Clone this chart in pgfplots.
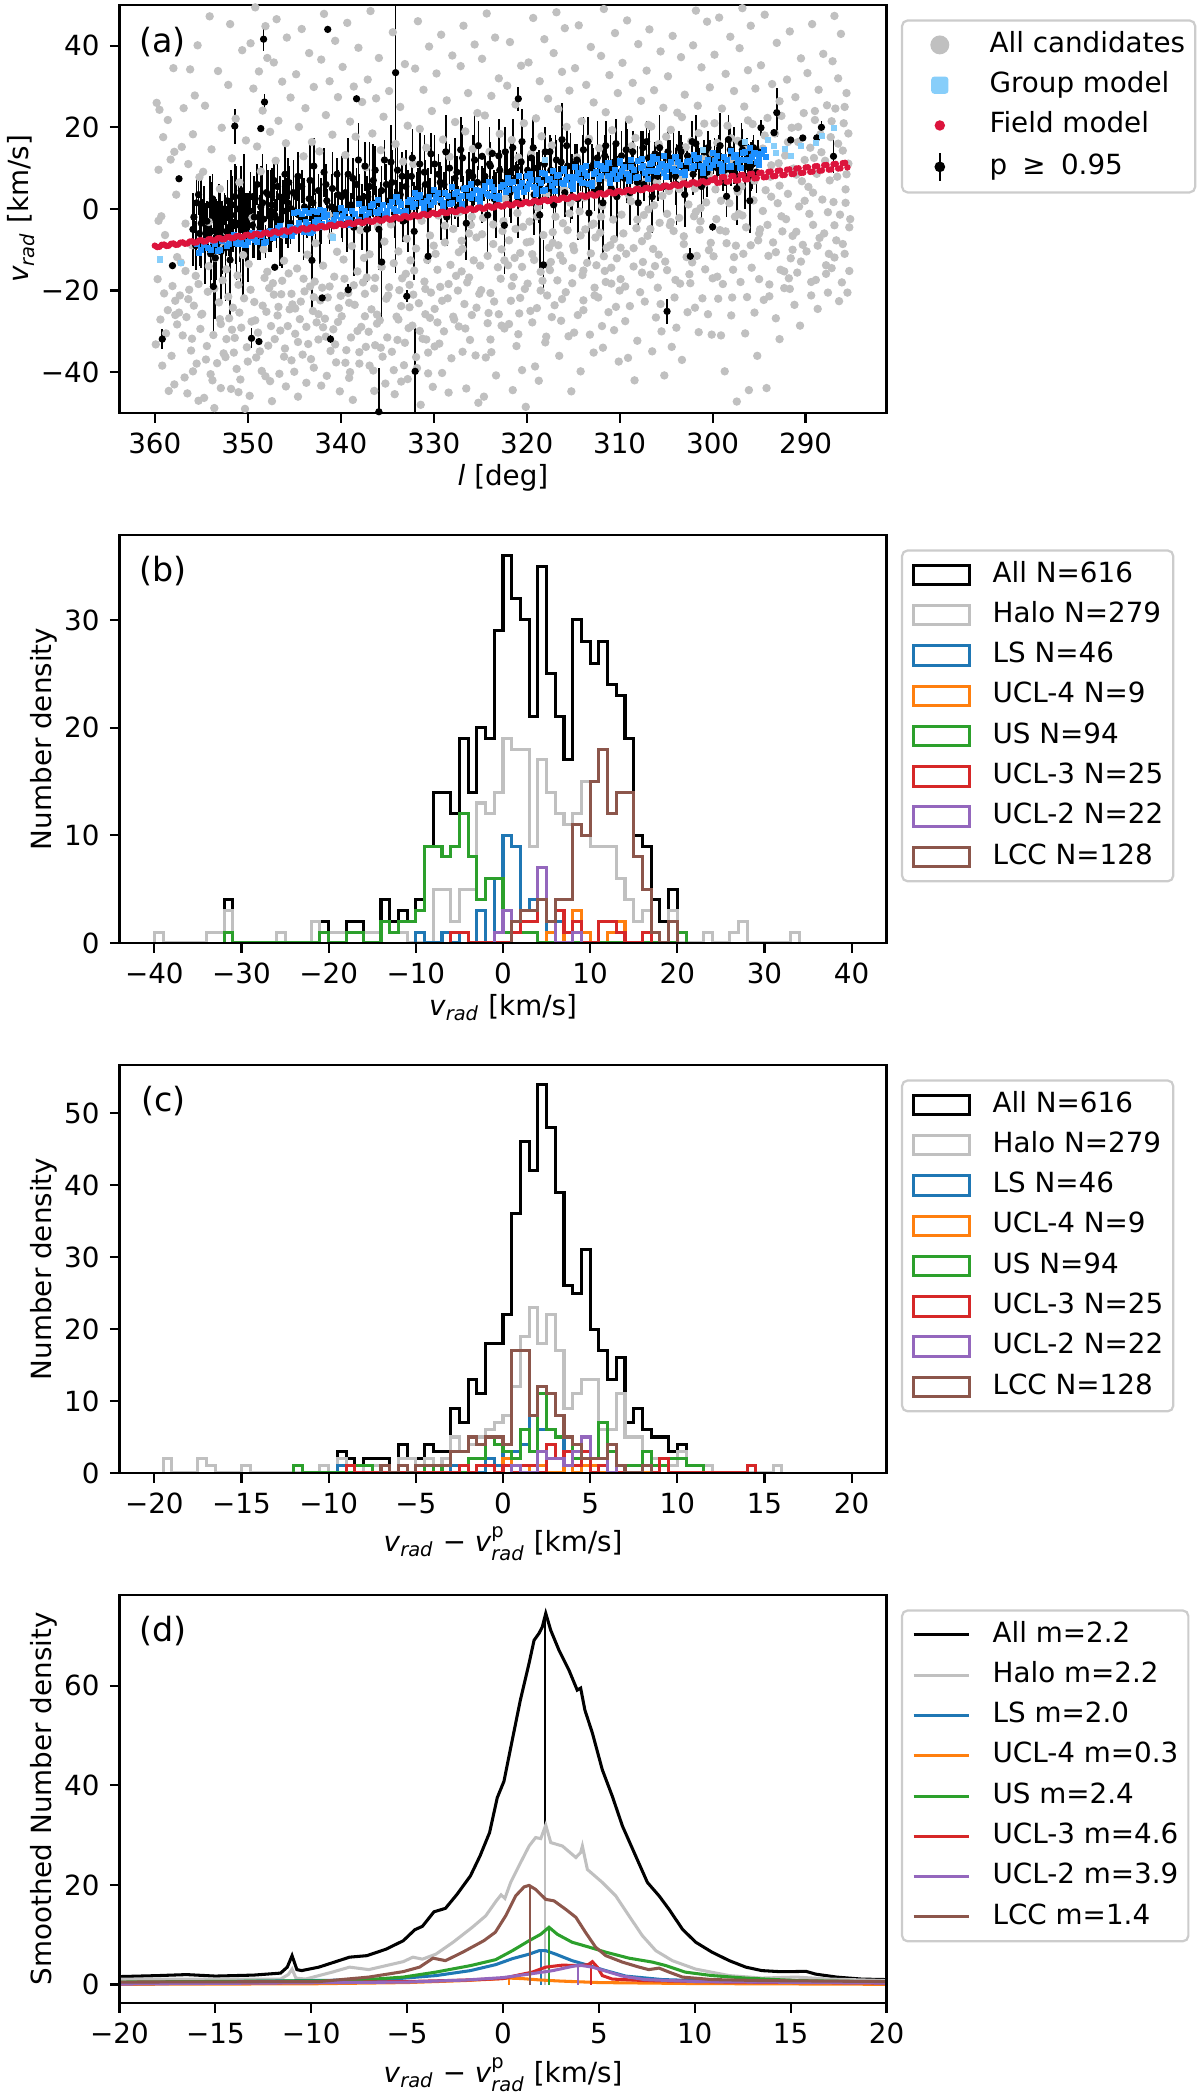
\documentclass[border=0pt]{standalone}
\usepackage{amsmath}
\usepackage{fontspec}
\setmainfont{DejaVu Sans}
\usepackage{pgfplots}
\pgfplotsset{compat=1.18}
\usepackage{pgfplotstable}
\definecolor{grayc}{RGB}{192,192,192}
\definecolor{lsb}{RGB}{135,206,250}
\definecolor{dodger}{RGB}{30,144,255}
\definecolor{crim}{RGB}{220,20,60}
\definecolor{tblue}{HTML}{1F77B4}
\definecolor{torange}{HTML}{FF7F0E}
\definecolor{tgreen}{HTML}{2CA02C}
\definecolor{tred}{HTML}{D62728}
\definecolor{tpurple}{HTML}{9467BD}
\definecolor{tbrown}{HTML}{8C564B}
\pgfplotsset{panel/.style={
  scale only axis, width=276.12pt, height=146.9pt,
  at={(43.02pt,#1)}, anchor=south west,
  axis line style={line width=0.8pt},
  tick align=outside, xtick pos=left, ytick pos=left,
  major tick length=3.5pt,
  tick style={black, line width=0.8pt},
  tick label style={font=\fontsize{10}{12}\selectfont, inner sep=0pt},
  xticklabel style={yshift=-3.5pt}, yticklabel style={xshift=-3.5pt},
  label style={font=\fontsize{10}{12}\selectfont},
  legend style={at={(1,1)}, anchor=north west, xshift=5.2pt, yshift=-5.2pt,
    draw=black!20, line width=0.8pt, rounded corners=2pt, fill=white,
    font=\fontsize{10}{12}\selectfont, inner xsep=3.6pt, inner ysep=3.8pt,
    row sep=4.5pt, cells={anchor=west},
    nodes={inner sep=0pt, text height=7.6pt, text depth=2.4pt},
    /tikz/every odd column/.append style={column sep=7.9pt}},
  axis on top}}
\pgfplotstableread{
l v e
355.8 -2.0 4
355.5 1.5 6
355.2 -6.0 8
354.9 -0.5 3
354.6 -8.5 10
354.4 -3.0 5
354.1 1.0 7
353.9 -5.5 12
353.7 -1.0 4
353.5 -12.0 15
353.3 -4.0 6
353.0 0.5 5
352.8 -7.0 9
352.6 -2.5 3
352.4 -9.5 13
352.2 2.0 5
352.0 -4.5 7
351.8 -1.5 11
351.6 -6.5 4
351.4 3.0 8
351.2 -3.5 14
351.0 0.0 6
350.8 -8.0 10
350.6 -2.0 4
350.4 1.5 12
350.2 -5.0 9
351.4 20.3 4.3
353.7 -19.0 12.5
350.5 -8.5 12.5
349.8 -0.5 5
349.5 -4.0 8
349.2 2.5 4
348.9 -6.5 6
348.6 0.5 10
348.3 -2.5 3
348.0 4.0 7
347.7 -5.5 5
347.4 1.0 9
347.1 -1.5 4
346.8 5.5 6
346.5 -3.0 11
346.2 2.0 5
345.9 -0.5 8
345.6 6.5 4
345.3 0.0 7
348.3 41.6 3
348.2 26.2 2
348.6 19.7 0.3
341.4 44.0 0.3
338.3 27.0 0.3
357.4 7.4 0.3
358.1 -13.9 0.3
359.2 -31.9 2.5
349.6 -31.7 2.5
348.8 -32.5 0.3
341.1 -31.9 1
342.0 -21.8 0.3
339.2 -19.8 1.5
332.9 -21.4 1.5
347.1 -14.3 0.3
343.1 -12.6 13
334.1 33.4 49
332.0 -39.8 10.6
335.9 -49.7 10.7
323.7 13.6 0.3
324.8 12.9 0.3
330.6 -11.6 2
335.6 -13.0 15
337.2 -5.0 13
344.8 3.0 5
344.5 -1.5 9
344.2 5.5 4
343.9 0.5 7
343.6 -4.0 3
343.3 7.0 10
343.0 1.5 5
342.7 -2.0 6
342.4 4.5 4
342.1 -0.5 8
341.8 9.0 6
341.5 2.0 3
341.2 -3.5 5
340.9 5.0 9
340.6 0.0 4
340.3 3.5 6
339.8 -1.0 7
339.5 4.0 5
339.2 8.5 9
338.9 1.0 3
338.6 -4.5 12
338.3 6.0 4
338.0 2.5 6
337.7 -2.0 8
337.4 10.5 6
337.1 3.0 3
336.8 -0.5 5
336.5 7.0 9
336.2 1.5 4
335.9 -5.0 10
335.6 4.5 6
335.3 12.0 5
334.8 2.0 4
334.5 6.5 8
334.2 -1.0 6
333.9 9.5 7
333.6 3.5 3
333.3 -3.0 5
333.0 5.5 9
332.7 1.0 4
332.4 8.0 6
332.1 -5.5 12
331.8 4.0 5
331.5 11.0 8
331.2 2.5 3
330.9 6.0 6
330.6 0.0 10
330.3 13.5 5
329.8 4.0 6
329.5 8.5 5
329.2 1.5 9
328.9 6.0 3
328.6 -2.0 7
328.3 10.0 6
328.0 3.5 4
327.7 7.5 10
327.4 0.5 5
327.1 14.5 8
326.8 5.0 3
326.5 -3.5 9
326.2 9.0 5
325.9 2.5 6
325.6 12.0 11
325.3 6.5 4
324.8 3.5 7
324.5 8.0 5
324.2 -1.5 10
323.9 10.5 6
323.6 5.0 3
323.3 1.0 8
323.0 13.0 9
322.7 6.5 4
322.4 -4.0 12
322.1 9.0 5
321.8 4.0 6
321.5 15.0 7
321.2 7.5 4
320.9 2.0 9
320.6 11.5 5
320.3 5.5 3
320.9 27.0 3
319.8 8.0 6
319.5 12.5 5
319.2 3.5 10
318.9 10.0 4
318.6 -1.5 13
318.3 7.0 7
318.2 -13.7 6
318.0 14.0 6
317.7 5.0 3
317.4 9.5 8
317.1 1.0 9
316.8 12.0 5
316.5 6.5 4
316.2 17.0 9
315.9 4.0 6
315.6 10.5 3
315.3 7.5 11
314.8 11.0 5
314.5 2.5 10
314.2 8.5 4
313.9 14.5 8
313.6 6.0 3
313.3 -1.0 12
313.0 10.0 6
312.7 4.5 5
312.4 12.5 9
312.1 7.0 3
311.8 1.5 14
311.5 15.5 6
311.2 9.0 4
310.9 5.0 7
310.6 11.5 5
310.3 3.0 10
309.8 13.0 6
309.5 7.5 4
309.2 10.5 9
308.9 4.0 8
308.6 14.0 5
308.3 9.0 3
308.0 1.5 6
307.7 12.0 7
307.4 6.0 4
307.1 16.5 5
306.8 10.0 10
306.5 3.0 9
306.2 13.5 3
305.9 8.0 6
305.6 11.0 4
305.3 5.5 7
304.8 14.0 5
304.9 -25.1 3
304.5 9.5 3
304.2 12.5 7
303.9 6.0 10
303.6 15.0 4
303.3 10.5 6
303.0 3.5 8
302.7 13.0 3
302.4 -11.6 2
302.1 8.5 5
301.8 16.0 7
301.5 11.0 4
301.2 5.5 9
300.9 14.0 3
300.6 9.0 6
300.3 12.0 5
300.0 -4.4 1
299.8 13.5 4
299.5 10.0 6
299.2 15.5 8
298.9 7.5 3
298.5 3.1 5
298.6 12.0 5
298.3 17.0 6
298.0 9.5 4
297.7 13.0 7
297.4 5.0 9
297.1 11.5 3
296.8 14.5 5
296.5 8.0 8
296.2 12.0 4
295.9 10.5 6
295.6 15.0 3
295.3 9.0 5
296.0 2.0 8
294.8 19.9 2
293.1 23.6 6
293.4 18.7 0.8
291.6 16.9 0.4
290.3 17.4 0.4
288.8 17.4 1
288.3 20.0 1.5
287.0 12.9 4
355.9 -5.0 9
355.6 -9.0 6
355.3 3.5 5
355.0 -3.5 11
354.7 -1.5 7
354.3 -6.5 4
354.0 -11.0 9
353.8 2.5 6
353.4 -7.5 10
353.1 -2.0 8
352.9 -10.5 12
352.5 0.0 4
352.3 -5.5 6
351.9 -12.5 14
351.7 1.0 7
351.3 -8.5 5
350.9 -4.0 9
350.7 4.5 6
350.3 -1.0 5
350.0 -7.0 11
349.7 3.0 6
349.3 -2.0 10
349.0 6.0 5
348.7 -4.5 8
348.4 1.5 12
348.1 -8.0 4
347.8 3.5 6
347.5 -0.5 10
347.2 7.0 5
346.9 -2.5 7
346.6 3.0 4
346.3 -5.5 9
346.0 8.5 7
345.7 1.5 11
345.4 -3.5 5
345.1 4.0 8
344.6 8.0 6
344.0 -2.5 10
343.4 2.5 4
342.9 10.5 7
342.2 -4.5 9
341.6 6.0 5
341.0 0.5 8
340.4 8.5 4
339.9 3.0 10
339.3 -3.5 7
338.7 7.5 5
338.1 12.0 9
337.5 0.0 4
336.9 5.5 11
336.3 9.5 6
335.7 -1.5 8
335.1 6.0 5
334.6 11.5 9
334.0 3.0 4
333.4 8.0 6
332.8 -0.5 10
332.3 12.5 7
331.7 5.0 5
331.0 9.0 9
330.4 3.5 4
329.9 11.0 7
329.3 6.5 5
328.7 14.0 9
328.1 2.0 6
327.5 9.0 4
326.9 12.5 8
326.4 4.0 5
325.8 8.0 10
325.2 15.5 6
324.6 6.0 4
324.0 11.0 9
323.5 2.5 7
322.9 9.5 5
322.3 14.0 6
321.7 6.5 10
321.1 10.0 4
320.5 16.5 8
319.9 9.5 4
319.3 15.0 7
318.7 5.5 9
318.1 11.0 5
317.5 14.0 4
316.9 8.0 10
316.3 11.5 6
315.7 15.5 5
315.1 5.5 8
314.6 12.0 4
314.0 9.0 9
313.4 16.5 6
312.8 11.0 4
312.2 5.0 10
311.6 13.0 5
311.0 10.0 8
310.4 16.0 6
309.9 9.0 4
309.3 14.5 7
308.7 11.0 5
308.1 6.5 9
307.5 15.0 4
306.9 12.5 6
306.3 8.5 5
305.7 15.0 8
305.1 10.5 3
304.6 12.0 5
304.0 8.0 7
303.4 14.0 4
302.8 10.0 6
302.2 16.5 5
301.6 12.5 3
301.0 8.0 7
300.5 15.0 4
299.9 11.5 3
299.3 13.0 5
298.7 9.5 4
298.1 14.5 6
297.5 11.0 3
296.9 16.0 5
296.3 13.5 4
295.7 11.0 6
295.1 14.0 3
}\blackpts
\begin{document}
\begin{tikzpicture}
\useasboundingbox (0pt,0pt) rectangle (432pt,753.84pt);
% ---------------- (a)
\begin{axis}[panel=605.16pt,
  xmin=281.3, xmax=363.8, x dir=reverse, ymin=-50, ymax=50,
  xtick={290,300,310,320,330,340,350,360},
  xticklabels={290,300,310,320,330,340,350,360},
  ytick={-40,-20,0,20,40}, yticklabels={−40,−20,0,20,40},
  xlabel={\textit{l} [deg]},
  ylabel={\textit{v}\textsubscript{\textit{rad}} [km/s]},
  xlabel style={at={(axis description cs:0.5,-0.16)},anchor=center},
  ylabel style={at={(axis description cs:-0.1284,0.5)},anchor=center}]
\addlegendimage{legend image code/.code={\path[draw=none,fill=none] (0pt,-3.5pt) rectangle (20pt,3.5pt); \fill[grayc] (10pt,0pt) circle (3pt);}}
\addlegendentry{All candidates}
\addlegendimage{legend image code/.code={\path[draw=none,fill=none] (0pt,-3.5pt) rectangle (20pt,3.5pt); \fill[lsb, rounded corners=0.8pt] (7.3pt,-2.7pt) rectangle (12.7pt,2.7pt);}}
\addlegendentry{Group model}
\addlegendimage{legend image code/.code={\path[draw=none,fill=none] (0pt,-3.5pt) rectangle (20pt,3.5pt); \fill[crim] (10pt,0pt) circle (1.45pt);}}
\addlegendentry{Field model}
\addlegendimage{legend image code/.code={\path[draw=none,fill=none] (0pt,-3.5pt) rectangle (20pt,3.5pt); \draw[black, line width=0.8pt] (10pt,-5pt) -- (10pt,5pt); \fill[black] (10pt,0pt) circle (1.5pt);}}
\addlegendentry{p\hspace{0.55em}≥\hspace{0.55em}0.95}
% gray candidates
\addplot[forget plot, only marks, mark=*, mark size=1.3pt, color=grayc, mark options={draw=none, fill=grayc}] coordinates {
(359.8,26.0) (359.5,24.3) (358.6,21.8) (359.1,17.6) (357.9,14.0) (358.3,12.1) (359.6,9.6) (357.7,3.5) (359.3,-1.8) (358.9,-6.4) (359.7,-17.2) (358.1,-18.9) (359.0,-20.7) (357.8,-22.5) (358.6,-24.8) (359.4,-27.1) (357.6,-28.3) (358.8,-30.5) (359.9,-33.2) (358.2,-36.0) (359.2,-38.4) (357.9,-43.0) (358.5,-44.6) (359.6,-2.9) (358.0,34.5) (357.6,-11.8)
(356.2,34.2) (355.4,40.1) (356.9,24.7) (355.9,18.3) (357.1,15.2) (356.4,11.0) (355.2,7.8) (356.7,-3.6) (355.6,-16.4) (356.3,-19.8) (357.3,-21.2) (355.8,-23.7) (356.6,-26.5) (355.1,-29.4) (357.0,-31.0) (356.1,-34.7) (355.5,-37.9) (356.8,-41.3) (355.3,-47.0) (357.2,-13.1) (356.0,-8.9) (355.7,27.8) (357.4,-25.4) (356.5,-45.2)
(354.1,47.2) (353.2,33.8) (354.6,25.3) (352.8,19.9) (353.9,14.6) (354.8,9.1) (353.5,-12.0) (352.7,-17.5) (354.3,-20.3) (353.1,-22.9) (354.9,-25.7) (352.9,-28.2) (353.7,-30.9) (354.4,-33.6) (352.6,-35.4) (353.3,-37.8) (354.0,-40.5) (352.9,-43.9) (354.7,-46.3) (353.6,-48.8) (354.2,-3.2) (353.0,4.9) (352.6,-9.4)
(351.9,45.3) (350.6,38.9) (352.1,30.4) (351.3,22.1) (350.2,16.8) (351.7,12.4) (350.9,6.5) (352.3,-14.8) (351.0,-18.6) (350.4,-21.9) (351.6,-24.2) (352.0,-26.8) (350.7,-29.1) (351.4,-31.6) (350.1,-33.9) (352.4,-36.3) (351.2,-39.2) (350.8,-41.8) (351.8,-44.1) (350.3,-49.0) (352.2,-7.6) (350.5,-11.3) (351.5,-35.2)
(349.2,49.4) (348.1,44.8) (349.7,40.6) (347.9,37.0) (348.8,33.7) (349.4,29.5) (348.4,24.1) (347.6,18.9) (349.0,15.3) (348.6,9.2) (349.9,-13.5) (348.2,-16.9) (347.7,-19.4) (349.3,-22.8) (348.0,-25.2) (349.6,-27.6) (348.9,-30.3) (347.8,-33.5) (349.1,-36.4) (348.5,-39.7) (347.6,-42.2) (349.8,-45.8) (348.3,-9.9) (349.5,-2.1)
(346.9,46.5) (345.8,42.0) (347.2,35.9) (346.3,31.2) (345.4,27.3) (346.7,21.6) (345.9,16.1) (347.0,11.8) (346.1,-12.7) (345.6,-15.8) (347.3,-18.2) (346.4,-20.9) (345.2,-23.4) (346.8,-26.1) (345.7,-28.7) (347.1,-31.9) (346.0,-34.2) (345.3,-37.1) (346.6,-40.4) (345.9,-43.5) (347.4,-47.1) (346.2,-6.3) (345.5,-24.6) (346.5,-29.8)
(344.2,44.1) (343.4,38.2) (344.8,33.0) (342.9,29.9) (343.8,24.7) (344.5,20.1) (343.1,16.4) (344.0,12.9) (342.7,-8.4) (343.6,-11.2) (344.7,-14.6) (342.8,-17.8) (343.9,-20.2) (344.3,-22.7) (343.0,-25.0) (342.6,-27.8) (344.9,-30.6) (343.5,-33.1) (344.1,-35.7) (342.9,-38.9) (343.7,-42.6) (344.6,-46.0) (343.3,-19.0) (344.4,-27.0) (342.6,-4.0)
(341.8,47.8) (340.6,41.2) (342.1,36.6) (341.2,31.3) (340.3,27.4) (341.6,23.0) (340.9,18.2) (342.3,14.1) (341.0,-6.7) (340.4,-10.5) (341.9,-13.9) (340.7,-16.6) (342.0,-19.3) (341.4,-21.7) (340.2,-24.3) (341.7,-26.9) (340.8,-29.5) (342.4,-32.0) (341.1,-34.8) (340.5,-37.6) (341.5,-40.9) (340.1,-44.7) (342.2,-22.4) (341.3,-1.5)
(339.3,45.6) (338.1,39.5) (339.8,34.8) (338.6,30.0) (337.7,26.2) (339.0,21.4) (338.4,17.7) (339.5,13.2) (337.9,-5.2) (338.8,-9.1) (339.7,-12.4) (338.2,-15.3) (337.6,-18.0) (339.2,-20.6) (338.5,-23.5) (339.9,-26.3) (337.8,-28.9) (338.9,-31.5) (339.4,-34.6) (338.0,-37.9) (339.1,-41.4) (338.7,-46.8) (337.5,-12.0) (339.6,-17.1)
(336.8,48.5) (335.9,37.0) (337.1,31.7) (336.2,27.1) (335.4,22.6) (336.6,18.5) (335.7,14.4) (337.3,10.2) (336.0,-4.4) (335.3,-8.0) (336.9,-11.1) (335.6,-14.2) (337.2,-16.8) (336.4,-19.5) (335.1,-22.0) (336.7,-24.6) (335.8,-27.3) (337.0,-30.1) (336.3,-33.4) (335.5,-36.2) (336.5,-39.6) (335.2,-42.8) (337.4,-20.8) (336.1,-25.9)
(334.4,43.3) (333.1,35.5) (334.8,28.9) (333.6,25.0) (332.8,20.4) (334.1,15.9) (333.3,11.6) (334.6,-3.8) (332.9,-7.3) (333.8,-10.4) (334.3,-13.3) (333.0,-15.9) (332.6,-18.6) (334.9,-21.2) (333.5,-23.8) (334.0,-26.4) (332.7,-29.2) (333.9,-32.1) (334.5,-35.0) (333.2,-38.3) (332.8,-41.7) (334.2,-45.4) (333.7,-19.9) (332.5,-12.6)
(331.7,46.0) (330.5,39.8) (332.0,34.4) (331.1,29.2) (330.2,24.0) (331.5,19.6) (330.8,15.0) (332.2,11.0) (331.3,-2.9) (330.4,-6.5) (331.9,-9.7) (330.7,-12.5) (332.1,-15.1) (331.0,-17.8) (330.3,-20.5) (331.6,-23.1) (330.9,-25.8) (332.3,-28.6) (331.2,-31.8) (330.6,-35.2) (331.8,-39.0) (330.1,-43.6) (331.4,-48.0) (330.0,-9.0)
(329.2,42.7) (328.0,37.6) (329.7,33.2) (328.6,26.6) (327.7,21.3) (329.0,17.0) (328.3,12.8) (329.5,-1.6) (327.9,-4.9) (328.8,-8.2) (329.8,-11.0) (328.2,-13.7) (327.6,-16.4) (329.3,-19.1) (328.5,-21.9) (329.9,-24.5) (327.8,-27.1) (328.9,-30.0) (329.4,-33.0) (328.1,-36.6) (329.1,-40.2) (328.4,-45.0) (327.5,-1.0) (329.6,-27.8)
(326.8,44.9) (325.6,40.3) (327.1,35.0) (326.3,28.4) (325.3,23.5) (326.6,19.0) (325.8,14.7) (327.2,-0.7) (326.0,-3.9) (325.4,-7.0) (326.9,-9.8) (325.7,-12.6) (327.0,-15.3) (326.4,-18.0) (325.1,-20.8) (326.7,-23.3) (325.9,-26.0) (327.3,-28.8) (326.1,-32.1) (325.5,-35.9) (326.5,-44.0) (325.2,-47.5) (326.2,-6.0) (327.4,-20.0)
(324.3,47.9) (323.4,42.0) (324.8,36.8) (323.0,32.0) (323.8,27.7) (324.5,22.9) (322.9,18.4) (324.0,14.0) (323.2,1.2) (324.7,-2.2) (322.6,-5.4) (323.6,-8.6) (324.2,-11.5) (323.1,-14.3) (322.8,-17.1) (324.9,-19.9) (323.5,-22.7) (324.1,-25.5) (322.7,-28.6) (323.9,-32.0) (324.4,-36.4) (323.3,-40.8) (324.6,-46.0) (322.5,-3.0)
(321.8,40.9) (320.6,35.1) (322.1,30.2) (321.2,25.6) (320.3,21.0) (321.6,16.9) (320.9,12.6) (322.3,2.5) (321.0,-1.0) (320.4,-4.4) (321.9,-7.7) (320.7,-10.8) (322.0,-13.8) (321.4,-16.7) (320.2,-19.6) (321.7,-22.5) (320.8,-25.6) (322.4,-29.3) (321.1,-33.6) (320.5,-39.5) (321.5,-44.4) (320.1,-48.5) (321.3,-12.0)
(319.3,46.8) (318.1,41.6) (319.8,35.9) (318.6,31.3) (317.7,27.0) (319.0,22.2) (318.4,17.8) (319.5,13.5) (317.9,3.7) (318.8,0.3) (319.7,-3.1) (318.2,-6.4) (317.6,-9.5) (319.2,-12.5) (318.5,-15.4) (319.9,-18.3) (317.8,-21.2) (318.9,-24.3) (319.4,-27.8) (318.0,-32.7) (319.1,-38.6) (318.7,-42.1) (317.5,-15.0) (319.6,-8.0)
(316.8,48.2) (315.9,44.3) (317.1,38.2) (316.2,33.6) (315.4,29.0) (316.6,24.5) (315.7,20.1) (317.3,15.6) (316.0,5.0) (315.3,1.5) (316.9,-1.9) (315.6,-5.2) (317.2,-8.3) (316.4,-11.4) (315.1,-14.5) (316.7,-17.5) (315.8,-20.4) (317.0,-23.6) (316.3,-27.4) (315.5,-31.2) (316.5,-36.0) (315.2,-44.7) (317.4,-13.0) (316.1,-3.5)
(314.4,45.0) (313.1,39.7) (314.8,34.5) (313.6,30.4) (312.8,26.1) (314.1,21.5) (313.3,17.2) (314.6,12.6) (312.9,6.3) (313.8,2.8) (314.3,-0.6) (313.0,-3.9) (312.6,-7.0) (314.9,-10.1) (313.5,-13.2) (314.0,-16.2) (312.7,-19.3) (313.9,-22.4) (314.5,-26.0) (313.2,-30.8) (312.8,-35.2) (314.2,-39.8) (313.7,-5.0) (312.5,-13.8)
(311.7,49.0) (310.5,43.1) (312.0,37.5) (311.1,32.8) (310.2,28.4) (311.5,23.7) (310.8,19.3) (312.2,14.9) (311.3,7.6) (310.4,4.0) (311.9,0.7) (310.7,-2.6) (312.1,-5.8) (311.0,-8.9) (310.3,-12.1) (311.6,-15.2) (310.9,-18.3) (312.3,-21.7) (311.2,-25.3) (310.6,-29.7) (311.8,-34.0) (310.1,-37.4) (311.4,-9.5) (310.0,-20.0)
(309.2,46.2) (308.0,40.4) (309.7,35.8) (308.6,30.9) (307.7,26.5) (309.0,21.9) (308.3,17.4) (309.5,8.9) (307.9,5.2) (308.8,1.9) (309.8,-1.4) (308.2,-4.7) (307.6,-7.9) (309.3,-11.0) (308.5,-14.1) (309.9,-17.2) (307.8,-20.4) (308.9,-23.8) (309.4,-27.5) (308.1,-32.3) (309.1,-36.5) (308.4,-42.0) (307.5,-13.0) (309.6,-6.0)
(306.8,44.0) (305.6,38.6) (307.1,33.9) (306.3,29.1) (305.3,24.8) (306.6,20.2) (305.8,15.9) (307.2,10.1) (306.0,6.6) (305.4,3.2) (306.9,-0.1) (305.7,-3.4) (307.0,-6.6) (306.4,-9.8) (305.1,-12.9) (306.7,-16.1) (305.9,-19.3) (307.3,-22.7) (306.1,-26.6) (305.5,-30.0) (306.5,-34.9) (305.2,-40.8) (306.2,-14.0) (307.4,-1.5)
(304.3,42.4) (303.4,37.2) (304.8,32.5) (303.0,28.0) (303.8,23.6) (304.5,19.4) (302.9,15.1) (304.0,11.3) (303.2,7.8) (304.7,4.4) (302.6,1.1) (303.6,-2.2) (304.2,-5.4) (303.1,-8.6) (302.8,-11.8) (304.9,-15.0) (303.5,-18.3) (304.1,-21.7) (302.7,-25.3) (303.9,-29.1) (304.4,-33.8) (303.3,-37.0) (304.6,-4.0) (302.5,-16.0)
(301.8,48.6) (300.6,45.9) (302.1,40.1) (301.2,34.7) (300.3,29.8) (301.6,25.3) (300.9,20.9) (302.3,16.6) (301.0,12.4) (300.4,8.6) (301.9,5.0) (300.7,1.6) (302.0,-1.8) (301.4,-5.1) (300.2,-8.3) (301.7,-11.5) (300.8,-14.8) (302.4,-18.2) (301.1,-21.9) (300.5,-25.8) (301.5,-30.2) (300.1,-30.8) (301.3,-3.0) (300.0,-17.0)
(299.3,46.9) (298.1,42.2) (299.8,37.8) (298.6,33.1) (297.7,28.9) (299.0,24.6) (298.4,20.4) (299.5,16.2) (297.9,12.1) (298.8,8.3) (299.7,4.8) (298.2,1.4) (297.6,-1.9) (299.2,-5.2) (298.5,-8.4) (299.9,-11.6) (297.8,-14.9) (298.9,-18.4) (299.4,-22.0) (298.0,-26.1) (299.1,-31.0) (298.7,-39.8) (297.5,-9.0) (299.6,-2.5)
(296.8,49.2) (295.9,44.9) (297.1,39.4) (296.2,34.0) (295.4,29.5) (296.6,25.1) (295.7,20.8) (297.3,16.7) (296.0,12.8) (295.3,9.0) (296.9,5.5) (295.6,2.1) (297.2,-1.2) (296.4,-4.5) (295.1,-7.7) (296.7,-11.0) (295.8,-14.4) (297.0,-17.9) (296.3,-21.6) (295.5,-25.4) (296.5,-30.5) (295.2,-36.0) (296.1,-44.4) (297.4,-47.2) (295.0,-6.0)
(294.4,47.6) (293.1,40.7) (294.8,35.2) (293.6,30.6) (292.8,26.4) (294.1,22.3) (293.3,18.5) (294.6,14.8) (292.9,11.2) (293.8,7.9) (294.3,4.6) (293.0,1.4) (292.6,-1.8) (294.9,-5.0) (293.5,-8.2) (294.0,-11.5) (292.7,-14.9) (293.9,-18.5) (294.5,-22.3) (293.2,-26.8) (292.8,-31.9) (294.2,-43.9) (293.7,3.0) (292.5,-5.5)
(291.7,43.5) (290.5,36.9) (292.0,31.7) (291.1,27.4) (290.2,23.5) (291.5,19.9) (290.8,16.4) (292.2,13.1) (291.3,9.9) (290.4,6.8) (291.9,3.7) (290.7,0.6) (292.1,-2.5) (291.0,-5.6) (290.3,-8.8) (291.6,-12.1) (290.9,-15.6) (292.3,-19.4) (291.2,-23.5) (290.6,-28.6) (291.8,-17.0) (290.1,2.0) (291.4,-10.0)
(289.3,45.3) (288.1,38.0) (289.8,33.3) (288.6,29.2) (287.7,25.4) (289.0,21.8) (288.4,18.3) (289.5,15.0) (287.9,11.8) (288.8,8.6) (289.7,5.4) (288.2,2.3) (287.6,-0.8) (289.2,-3.9) (288.5,-7.1) (289.9,-10.4) (287.8,-13.8) (288.9,-17.4) (289.4,-21.2) (288.0,-6.0) (289.1,12.5) (288.7,-24.5) (287.5,-11.0)
(286.9,47.3) (286.2,42.9) (287.1,36.2) (286.5,32.0) (285.6,28.4) (286.8,24.6) (285.9,21.0) (287.3,17.6) (286.0,14.3) (285.4,11.1) (286.6,7.9) (285.7,4.8) (287.0,1.7) (286.3,-1.4) (285.3,-4.5) (286.7,-7.7) (285.8,-11.0) (287.2,-14.5) (286.1,-18.0) (285.5,-20.5) (286.4,-22.6) (285.2,-2.5) (285.6,8.5) (286.9,-11.9)
(356.7,-15.2) (355.3,-18.4) (354.2,-14.0) (352.1,-21.5) (351.1,-16.3) (349.7,-19.8) (348.4,-23.7) (347.2,-21.0) (346.3,-17.6) (344.9,-24.4) (343.7,-28.9) (342.4,-25.8) (341.6,-31.3) (340.3,-27.7) (339.1,-23.0) (338.2,-29.9) (337.3,-33.8) (336.1,-28.1) (335.0,-31.5) (333.8,-27.1) (332.6,-24.1) (331.5,-29.9) (330.4,-26.7)
(356.0,-31.8) (354.5,-36.9) (353.0,-27.0) (351.7,-29.6) (350.0,-37.4) (348.7,-34.9) (347.5,-28.7) (346.1,-36.2) (344.6,-32.6) (343.2,-36.8) (341.9,-29.0) (340.6,-33.2) (339.5,-37.7) (338.0,-35.1) (336.9,-38.4) (335.7,-34.0) (334.3,-39.5) (333.1,-32.8) (331.9,-36.3) (330.8,-32.0)
(357.8,-26.0) (356.4,-22.1) (355.0,-25.9) (353.6,-19.5) (352.3,-31.9) (350.9,-25.4) (349.2,-27.3) (347.9,-15.4) (346.7,-24.0) (345.3,-20.8) (344.0,-17.1) (342.9,-21.6) (341.2,-19.0) (340.0,-21.3) (338.6,-18.7) (337.4,-26.3) (336.3,-16.9) (334.8,-19.2) (333.4,-17.0) (332.2,-21.0) (330.9,-19.6)
(355.9,-39.8) (353.8,-42.0) (351.0,-44.9) (348.1,-41.0) (345.0,-39.9) (342.1,-43.3) (339.0,-40.0) (336.4,-44.6) (333.5,-42.3) (330.6,-40.3)
(329.6,-14.9) (328.4,-18.4) (327.3,-10.6) (326.2,-16.8) (325.0,-13.9) (323.9,-20.6) (322.7,-9.9) (321.6,-18.9) (320.5,-14.2) (319.4,-11.1) (318.3,-17.6) (317.2,-5.7) (316.1,-12.7) (315.0,-9.1) (313.9,-15.1) (312.8,-3.6) (311.7,-11.6) (310.6,-7.4)
(329.1,-22.5) (327.9,-26.4) (326.6,-29.3) (325.4,-24.2) (324.2,-28.0) (323.0,-25.8) (321.9,-28.2) (320.7,-21.8) (319.6,-25.0) (318.5,-20.0) (317.3,-26.5) (316.2,-22.1) (315.1,-18.2) (313.9,-24.8) (312.7,-21.2) (311.5,-17.9) (310.4,-24.0)
(328.8,-4.1) (327.0,-7.8) (325.9,-1.9) (324.8,-6.2) (323.6,-3.8) (322.4,-12.6) (321.2,-4.9) (320.0,-8.2) (318.9,-1.8) (317.7,-13.8) (316.6,-8.9) (315.4,-1.1) (314.2,-6.5) (313.1,-10.9) (312.0,-1.9) (310.9,-14.4) (309.9,-9.5)
(329.9,-33.7) (326.9,-35.0) (323.8,-35.1) (320.9,-30.7) (317.9,-31.3) (314.9,-30.3) (311.9,-28.7)
(309.4,-19.0) (308.5,-9.6) (307.6,-15.6) (306.7,-4.9) (305.8,-11.2) (304.9,-1.2) (304.0,-17.4) (303.1,-6.7) (302.2,-13.1) (301.3,0.2) (300.4,-10.1) (299.5,-16.6) (298.6,-5.5) (297.7,-11.8) (296.8,-1.6) (295.9,-8.9) (295.0,-17.2) (294.1,-3.9) (293.2,-10.6) (292.3,-15.3) (291.4,-6.6) (290.5,-12.9) (289.6,-1.2) (288.7,-9.0) (287.8,-15.9) (286.9,-4.0) (286.0,-8.6) (285.3,-15.2)
(309.0,3.4) (308.1,-2.6) (307.2,6.7) (306.3,0.9) (305.4,9.4) (304.5,-3.2) (303.6,4.9) (302.7,11.2) (301.8,-0.7) (300.9,6.2) (300.0,13.5) (299.1,2.0) (298.2,9.9) (297.3,4.2) (296.4,14.5) (295.5,6.9) (294.6,-0.5) (293.7,10.7) (292.8,5.7) (291.9,16.4) (291.0,8.4) (290.1,12.0) (289.2,4.0) (288.3,13.9) (287.4,7.0) (286.5,16.0) (285.7,1.5) (285.4,18.5)
(308.7,15.4) (306.9,20.6) (305.0,17.7) (303.3,22.5) (301.5,18.6) (299.8,21.0) (298.0,17.3) (296.2,21.7) (294.4,18.0) (292.6,22.8) (290.8,20.1) (289.0,24.0) (287.2,21.5) (285.8,25.0) (293.9,-21.4) (291.7,-19.6) (289.4,-17.9) (287.6,-20.5) (297.9,-21.7) (301.9,-24.2) (305.6,-23.3)
};
% black members with error bars
\addplot[forget plot, only marks, mark=*, mark size=1.1pt, color=black,
  error bars/.cd, y dir=both, y explicit, error mark=none,
  error bar style={line width=0.6pt, black}]
  table[x=l, y=v, y error=e] {\blackpts};
% group model band
\addplot[forget plot, only marks, mark=square*, mark size=0.9pt, color=dodger, mark options={draw=none, fill=dodger}] coordinates {
(355.5,-8.7) (355.0,-10.0) (354.5,-7.8) (354.0,-10.1) (353.5,-8.5) (353.0,-10.1) (352.5,-7.4) (352.0,-8.5) (351.5,-6.5) (351.0,-8.7)
(350.5,-6.8) (350.0,-8.1) (349.5,-5.9) (349.0,-8.1) (348.5,-6.5) (348.0,-8.0) (347.5,-5.3) (347.0,-6.3) (346.5,-4.2) (346.0,-6.4)
(345.5,-4.4) (345.0,-5.7) (344.5,-3.4) (344.0,-5.6) (343.5,-3.9) (343.0,-5.4) (342.5,-2.7) (342.0,-3.6) (341.5,-1.5) (341.0,-3.6)
(340.5,-1.6) (340.0,-2.8) (339.5,-0.6) (339.0,-2.8) (338.5,-1.2) (338.0,-2.7) (337.5,0.0) (337.0,-1.0) (336.5,1.1) (336.0,-1.1)
(335.5,0.9) (335.0,-0.4) (334.5,1.8) (334.0,-0.5) (333.5,1.1) (333.0,-0.5) (332.5,2.3) (332.0,1.3) (331.5,3.3) (331.0,1.1)
(330.5,3.0) (330.0,1.7) (329.5,3.9) (329.0,1.5) (328.5,3.1) (328.0,1.4) (327.5,4.1) (327.0,3.1) (326.5,5.0) (326.0,2.8)
(325.5,4.6) (325.0,3.3) (324.5,5.5) (324.0,3.1) (323.5,4.7) (323.0,3.1) (322.5,5.8) (322.0,4.7) (321.5,6.7) (321.0,4.5)
(320.5,6.3) (320.0,5.0) (319.5,7.2) (319.0,4.8) (318.5,6.4) (318.0,4.7) (317.5,7.4) (317.0,6.4) (316.5,8.3) (316.0,6.1)
(315.5,7.9) (315.0,6.6) (314.5,8.8) (314.0,6.4) (313.5,8.0) (313.0,6.3) (312.5,9.0) (312.0,8.0) (311.5,9.9) (311.0,7.7)
(310.5,9.5) (310.0,8.2) (309.5,10.3) (309.0,8.0) (308.5,9.5) (308.0,7.8) (307.5,10.5) (307.0,9.4) (306.5,11.3) (306.0,9.0)
(305.5,10.9) (305.0,9.5) (304.5,11.6) (304.0,9.2) (303.5,10.8) (303.0,9.1) (302.5,11.7) (302.0,10.6) (301.5,12.5) (301.0,10.3)
(300.5,12.1) (300.0,10.7) (299.5,12.9) (299.0,10.5) (298.5,12.1) (298.0,10.4) (297.5,13.1) (297.0,12.1) (296.5,14.0) (296.0,11.8)
(295.5,13.6) (295.0,12.3) (294.5,14.5)
(355.25,-10.8) (354.75,-8.9) (354.25,-9.6) (353.75,-7.8) (353.25,-10.4) (352.75,-7.8) (352.25,-9.1) (351.75,-6.8) (351.25,-8.4) (350.75,-7.8)
(350.25,-8.9) (349.75,-7.0) (349.25,-7.7) (348.75,-5.8) (348.25,-8.4) (347.75,-5.7) (347.25,-7.0) (346.75,-4.6) (346.25,-6.1) (345.75,-5.5)
(345.25,-6.5) (344.75,-4.6) (344.25,-5.2) (343.75,-3.3) (343.25,-5.8) (342.75,-3.1) (342.25,-4.4) (341.75,-1.9) (341.25,-3.4) (340.75,-2.7)
(340.25,-3.7) (339.75,-1.7) (339.25,-2.4) (338.75,-0.5) (338.25,-3.1) (337.75,-0.4) (337.25,-1.7) (336.75,0.7) (336.25,-0.8) (335.75,-0.2)
(335.25,-1.2) (334.75,0.7) (334.25,0.0) (333.75,1.8) (333.25,-0.8) (332.75,1.8) (332.25,0.6) (331.75,3.0) (331.25,1.4) (330.75,2.0)
(330.25,0.9) (329.75,2.8) (329.25,2.1) (328.75,3.8) (328.25,1.2) (327.75,3.7) (327.25,2.4) (326.75,4.8) (326.25,3.1) (325.75,3.7)
(325.25,2.5) (324.75,4.4) (324.25,3.7) (323.75,5.4) (323.25,2.8) (322.75,5.4) (322.25,4.1) (321.75,6.4) (321.25,4.8) (320.75,5.4)
(320.25,4.2) (319.75,6.1) (319.25,5.4) (318.75,7.1) (318.25,4.5) (317.75,7.0) (317.25,5.7) (316.75,8.1) (316.25,6.4) (315.75,7.0)
(315.25,5.8) (314.75,7.7) (314.25,7.0) (313.75,8.7) (313.25,6.1) (312.75,8.6) (312.25,7.3) (311.75,9.7) (311.25,8.0) (310.75,8.6)
(310.25,7.4) (309.75,9.3) (309.25,8.5) (308.75,10.3) (308.25,7.6) (307.75,10.1) (307.25,8.8) (306.75,11.1) (306.25,9.4) (305.75,9.9)
(305.25,8.8) (304.75,10.6) (304.25,9.8) (303.75,11.5) (303.25,8.9) (302.75,11.4) (302.25,10.0) (301.75,12.3) (301.25,10.6) (300.75,11.2)
(300.25,10.0) (299.75,11.8) (299.25,11.1) (298.75,12.8) (298.25,10.2) (297.75,12.7) (297.25,11.4) (296.75,13.8) (296.25,12.1) (295.75,12.7)
(295.25,11.5) (294.75,13.4) (294.25,12.7)
(345.0,-1.0) (344.6,-0.8) (344.2,-1.2) (343.8,-0.6) (343.4,-0.9) (343.0,-0.4) (342.6,-0.7) (342.2,-0.2) (341.8,-0.5)
(322.0,7.5) (320.8,8.0) (319.6,8.6) (318.4,8.9) (317.2,9.3) (316.0,9.8) (314.8,10.2) (313.6,10.6) (312.4,10.9) (311.2,11.3) (310.0,11.7) (308.8,12.0) (307.6,12.3) (306.4,12.7) (305.2,13.0)
(340.0,0.2) (339.0,-3.9) (338.0,1.2) (337.0,-3.0) (336.0,2.1) (335.0,-2.0) (334.0,3.0) (333.0,-1.2) (332.0,3.9) (331.0,-0.3)
(330.0,4.7) (329.0,0.4) (328.0,5.3) (327.0,1.1) (326.0,6.0) (325.0,1.7) (324.0,6.6) (323.0,2.4) (322.0,7.3) (321.0,3.1)
(320.0,8.0) (319.0,3.7) (318.0,8.6) (317.0,4.4) (316.0,9.3) (315.0,5.0) (314.0,9.9) (313.0,5.6) (312.0,10.6) (311.0,6.3)
(310.0,11.2) (309.0,6.9) (308.0,11.7) (307.0,7.4) (306.0,12.2) (305.0,7.9) (304.0,12.7) (303.0,8.4) (302.0,13.2) (301.0,8.9)
(300.0,13.7) (299.0,9.4) (298.0,14.3) (297.0,10.1) (296.0,15.0) (295.0,10.7)
};
\addplot[forget plot, only marks, mark=square*, mark size=0.9pt, color=lsb, mark options={draw=none, fill=lsb}] coordinates {
(359.4,-12.4) (357.2,-13.3) (340.8,-7.0) (293.4,15.4) (293.2,13.7) (291.6,12.9) (290.5,15.4) (288.9,16.2) (288.2,17.8) (286.9,19.9) (301.0,14.5) (296.5,16.5) (318.0,12.0) (294.0,16.8) (292.2,14.6)
};
% field model
\addplot[forget plot, only marks, mark=*, mark size=0.95pt, color=crim, mark options={draw=none, fill=crim}] coordinates {
(360.0,-9.0) (359.5,-9.27) (359.0,-8.73) (358.5,-9.0) (358.0,-8.46) (357.5,-8.73) (357.0,-8.2) (356.5,-8.46) (356.0,-7.93) (355.5,-8.19)
(355.0,-7.66) (354.5,-7.93) (354.0,-7.39) (353.5,-7.66) (353.0,-7.12) (352.5,-7.39) (352.0,-6.86) (351.5,-7.12) (351.0,-6.59) (350.5,-6.85)
(350.0,-6.32) (349.5,-6.59) (349.0,-6.05) (348.5,-6.32) (348.0,-5.78) (347.5,-6.05) (347.0,-5.52) (346.5,-5.78) (346.0,-5.25) (345.5,-5.51)
(345.0,-4.98) (344.5,-5.25) (344.0,-4.71) (343.5,-4.98) (343.0,-4.44) (342.5,-4.71) (342.0,-4.18) (341.5,-4.44) (341.0,-3.91) (340.5,-4.17)
(340.0,-3.64) (339.5,-3.91) (339.0,-3.37) (338.5,-3.64) (338.0,-3.10) (337.5,-3.37) (337.0,-2.84) (336.5,-3.10) (336.0,-2.57) (335.5,-2.83)
(335.0,-2.30) (334.5,-2.57) (334.0,-2.03) (333.5,-2.30) (333.0,-1.76) (332.5,-2.03) (332.0,-1.50) (331.5,-1.76) (331.0,-1.23) (330.5,-1.49)
(330.0,-0.96) (329.5,-1.23) (329.0,-0.69) (328.5,-0.96) (328.0,-0.42) (327.5,-0.69) (327.0,-0.16) (326.5,-0.42) (326.0,0.11) (325.5,-0.15)
(325.0,0.38) (324.5,0.11) (324.0,0.65) (323.5,0.38) (323.0,0.92) (322.5,0.65) (322.0,1.18) (321.5,0.92) (321.0,1.45) (320.5,1.19)
(320.0,1.72) (319.5,1.45) (319.0,1.99) (318.5,1.72) (318.0,2.26) (317.5,1.99) (317.0,2.52) (316.5,2.26) (316.0,2.79) (315.5,2.53)
(315.0,3.06) (314.5,2.79) (314.0,3.33) (313.5,3.06) (313.0,3.60) (312.5,3.33) (312.0,3.86) (311.5,3.60) (311.0,4.13) (310.5,3.87)
(310.0,4.40) (309.5,4.13) (309.0,4.67) (308.5,4.40) (308.0,4.94) (307.5,4.67) (307.0,5.20) (306.5,4.94) (306.0,5.47) (305.5,5.21)
(305.0,5.74) (304.5,5.47) (304.0,6.01) (303.5,5.74) (303.0,6.28) (302.5,6.01) (302.0,6.54) (301.5,6.28) (301.0,6.81) (300.5,6.55)
(300.0,7.08) (299.5,6.41) (299.0,7.75) (298.5,6.68) (298.0,8.02) (297.5,6.95) (297.0,8.28) (296.5,7.22) (296.0,8.55) (295.5,7.49)
(295.0,8.82) (294.5,7.75) (294.0,9.09) (293.5,8.02) (293.0,9.36) (292.5,8.29) (292.0,9.62) (291.5,8.56) (291.0,9.89) (290.5,8.83)
(290.0,10.16) (289.5,9.09) (289.0,10.43) (288.5,9.36) (288.0,10.70) (287.5,9.63) (287.0,10.96) (286.5,9.90) (286.0,11.23) (285.5,10.17)
(359.75,-9.34) (359.25,-8.80) (358.75,-9.07) (358.25,-8.53) (357.75,-8.80) (357.25,-8.27) (356.75,-8.53) (356.25,-8.00) (355.75,-8.26) (355.25,-7.73)
(354.75,-8.00) (354.25,-7.46) (353.75,-7.73) (353.25,-7.19) (352.75,-7.46) (352.25,-6.93) (351.75,-7.19) (351.25,-6.66) (350.75,-6.92) (350.25,-6.39)
(349.75,-6.66) (349.25,-6.12) (348.75,-6.39) (348.25,-5.85) (347.75,-6.12) (347.25,-5.59) (346.75,-5.85) (346.25,-5.32) (345.75,-5.58) (345.25,-5.05)
(344.75,-5.32) (344.25,-4.78) (343.75,-5.05) (343.25,-4.51) (342.75,-4.78) (342.25,-4.25) (341.75,-4.51) (341.25,-3.98) (340.75,-4.24) (340.25,-3.71)
(339.75,-3.98) (339.25,-3.44) (338.75,-3.71) (338.25,-3.17) (337.75,-3.44) (337.25,-2.91) (336.75,-3.17) (336.25,-2.64) (335.75,-2.90) (335.25,-2.37)
(334.75,-2.64) (334.25,-2.10) (333.75,-2.37) (333.25,-1.83) (332.75,-2.10) (332.25,-1.57) (331.75,-1.83) (331.25,-1.30) (330.75,-1.56) (330.25,-1.03)
(329.75,-1.30) (329.25,-0.76) (328.75,-1.03) (328.25,-0.49) (327.75,-0.76) (327.25,-0.23) (326.75,-0.49) (326.25,0.04) (325.75,-0.22) (325.25,0.31)
(324.75,0.04) (324.25,0.58) (323.75,0.31) (323.25,0.85) (322.75,0.58) (322.25,1.11) (321.75,0.85) (321.25,1.38) (320.75,1.12) (320.25,1.65)
(319.75,1.38) (319.25,1.92) (318.75,1.65) (318.25,2.19) (317.75,1.92) (317.25,2.45) (316.75,2.19) (316.25,2.72) (315.75,2.46) (315.25,2.99)
(314.75,2.72) (314.25,3.26) (313.75,2.99) (313.25,3.53) (312.75,3.26) (312.25,3.79) (311.75,3.53) (311.25,4.06) (310.75,3.80) (310.25,4.33)
(309.75,4.06) (309.25,4.60) (308.75,4.33) (308.25,4.87) (307.75,4.60) (307.25,5.13) (306.75,4.87) (306.25,5.40) (305.75,5.14) (305.25,5.67)
(304.75,5.40) (304.25,5.94) (303.75,5.67) (303.25,6.21) (302.75,5.94) (302.25,6.47) (301.75,6.21) (301.25,6.74) (300.75,6.48) (300.25,7.01)
(299.75,7.54) (299.25,6.48) (298.75,7.81) (298.25,6.75) (297.75,8.08) (297.25,7.01) (296.75,8.35) (296.25,7.28) (295.75,8.62) (295.25,7.55)
(294.75,8.88) (294.25,7.82) (293.75,9.15) (293.25,8.09) (292.75,9.42) (292.25,8.35) (291.75,9.69) (291.25,8.62) (290.75,9.96) (290.25,8.89)
(289.75,10.22) (289.25,9.16) (288.75,10.49) (288.25,9.43) (287.75,10.76) (287.25,9.69) (286.75,11.03) (286.25,9.96) (285.75,11.30)
};
\node[font=\fontsize{12}{14}\selectfont] at (axis description cs:0.056,0.91) {(a)};
\end{axis}
% ---------------- (b)
\begin{axis}[panel=414.36pt,
  xmin=-44, xmax=44, ymin=0, ymax=37.9,
  xtick={-40,-30,-20,-10,0,10,20,30,40},
  xticklabels={−40,−30,−20,−10,0,10,20,30,40},
  ytick={0,10,20,30}, yticklabels={0,10,20,30},
  xlabel={\textit{v}\textsubscript{\textit{rad}} [km/s]},
  ylabel={Number density},
  xlabel style={at={(axis description cs:0.5,-0.159)},anchor=center},
  ylabel style={at={(axis description cs:-0.0984,0.5)},anchor=center},
  legend image code/.code={\draw[#1, sharp corners] (0pt,-3.5pt) rectangle (20pt,3.5pt);}]
\addplot[const plot mark left, line width=1.1pt, black] coordinates {
(-40,0) (-40,1) (-39,0) (-34,1) (-33,1) (-32,4) (-31,0) (-26,1) (-25,0) (-22,2) (-21,2) (-20,1) (-19,1) (-18,2) (-17,2) (-16,1) (-15,1) (-14,4) (-13,2) (-12,3) (-11,2) (-10,4) (-9,9) (-8,14) (-7,14) (-6,12) (-5,19) (-4,14) (-3,20) (-2,19) (-1,29) (0,36) (1,32) (2,30) (3,21) (4,35) (5,25) (6,21) (7,17) (8,30) (9,28) (10,26) (11,28) (12,24) (13,23) (14,19) (15,10) (16,9) (17,4) (18,2) (19,5) (20,1) (21,0) (23,1) (24,0) (26,1) (27,2) (28,0) (33,1) (34,0)};
\addlegendentry{All N=616}
\addplot[const plot mark left, line width=1.1pt, grayc] coordinates {
(-40,0) (-40,1) (-39,0) (-34,1) (-33,1) (-32,3) (-31,0) (-26,1) (-25,0) (-22,2) (-21,1) (-20,1) (-19,1) (-18,1) (-17,1) (-16,1) (-15,1) (-14,2) (-13,1) (-12,1) (-11,0) (-8,5) (-7,5) (-6,2) (-5,5) (-4,5) (-3,13) (-2,12) (-1,14) (0,19) (1,18) (2,18) (3,9) (4,17) (5,14) (6,12) (7,11) (8,12) (9,15) (10,9) (11,9) (12,9) (13,6) (14,4) (15,2) (16,3) (17,1) (18,0) (19,3) (20,0) (23,1) (24,0) (26,1) (27,2) (28,0) (33,1) (34,0)};
\addlegendentry{Halo N=279}
\addplot[const plot mark left, line width=1.1pt, tblue] coordinates {
(-10,0) (-10,1) (-9,0) (-7,1) (-6,0) (-5,1) (-4,0) (-3,3) (-2,0) (-1,6) (0,10) (1,9) (2,3) (3,4) (4,4) (5,0) (6,2) (7,0) (9,1) (10,0)};
\addlegendentry{LS N=46}
\addplot[const plot mark left, line width=1.1pt, torange] coordinates {
(5,0) (5,1) (6,0) (7,1) (8,3) (9,1) (10,0) (12,1) (13,2) (14,0)};
\addlegendentry{UCL-4 N=9}
\addplot[const plot mark left, line width=1.1pt, tgreen] coordinates {
(-32,0) (-32,1) (-31,0) (-21,1) (-20,0) (-18,1) (-17,1) (-16,0) (-14,2) (-13,1) (-12,2) (-11,2) (-10,3) (-9,9) (-8,9) (-7,8) (-6,9) (-5,12) (-4,8) (-3,4) (-2,6) (-1,6) (0,1) (1,1) (2,1) (3,1) (4,0) (20,1) (21,0)};
\addlegendentry{US N=94}
\addplot[const plot mark left, line width=1.1pt, tred] coordinates {
(-6,0) (-6,1) (-5,1) (-4,0) (1,1) (2,2) (3,2) (4,4) (5,2) (6,3) (7,1) (8,2) (9,0) (11,2) (12,2) (13,1) (14,0) (16,1) (17,0)};
\addlegendentry{UCL-3 N=25}
\addplot[const plot mark left, line width=1.1pt, tpurple] coordinates {
(-1,0) (-1,1) (0,3) (1,2) (2,3) (3,3) (4,7) (5,2) (6,0) (8,1) (9,0)};
\addlegendentry{UCL-2 N=22}
\addplot[const plot mark left, line width=1.1pt, tbrown] coordinates {
(1,0) (1,2) (2,3) (3,3) (4,4) (5,2) (6,4) (7,4) (8,11) (9,10) (10,15) (11,18) (12,12) (13,14) (14,14) (15,8) (16,5) (17,1) (18,0) (19,2) (20,0)};
\addlegendentry{LCC N=128}
\node[font=\fontsize{12}{14}\selectfont] at (axis description cs:0.057,0.911) {(b)};
\end{axis}
% ---------------- (c)
\begin{axis}[panel=223.56pt,
  xmin=-22, xmax=22, ymin=0, ymax=56.7,
  xtick={-20,-15,-10,-5,0,5,10,15,20},
  xticklabels={−20,−15,−10,−5,0,5,10,15,20},
  ytick={0,10,20,30,40,50}, yticklabels={0,10,20,30,40,50},
  xlabel={\textit{v}\textsubscript{\textit{rad}} − $\textit{v}^{\textup{p}}_{\textit{rad}}$ [km/s]},
  ylabel={Number density},
  xlabel style={at={(axis description cs:0.5,-0.174)},anchor=center},
  ylabel style={at={(axis description cs:-0.0984,0.5)},anchor=center},
  legend image code/.code={\draw[#1, sharp corners] (0pt,-3.5pt) rectangle (20pt,3.5pt);}]
\addplot[const plot mark left, line width=1.1pt, black] coordinates {
(-19.5,0) (-19.5,2) (-19,0) (-17.5,2) (-17,1) (-16.5,0) (-15,1) (-14.5,0) (-12,1) (-11.5,0) (-10.5,1) (-10,0) (-9.5,3) (-9,2) (-8.5,1) (-8,2) (-7.5,2) (-7,2) (-6.5,0) (-6,4) (-5.5,2) (-5,2) (-4.5,4) (-4,3) (-3.5,3) (-3,9) (-2.5,7) (-2,13) (-1.5,11) (-1,18) (-0.5,18) (0,22) (0.5,36) (1,46) (1.5,42) (2,54) (2.5,48) (3,39) (3.5,26) (4,25) (4.5,31) (5,20) (5.5,17) (6,13) (6.5,16) (7,7) (7.5,9) (8,6) (8.5,5) (9,5) (9.5,3) (10,4) (10.5,1) (11,1) (11.5,1) (12,0) (14,1) (14.5,0) (15.5,1) (16,0)};
\addlegendentry{All N=616}
\addplot[const plot mark left, line width=1.1pt, grayc] coordinates {
(-19.5,0) (-19.5,2) (-19,0) (-17.5,2) (-17,1) (-16.5,0) (-15,1) (-14.5,0) (-10.5,1) (-10,0) (-9.5,2) (-9,1) (-8.5,0) (-8,1) (-7.5,1) (-7,0) (-6,2) (-5.5,2) (-5,0) (-4.5,2) (-4,1) (-3.5,2) (-3,5) (-2.5,3) (-2,4) (-1.5,5) (-1,6) (-0.5,7) (0,8) (0.5,12) (1,19) (1.5,23) (2,18) (2.5,22) (3,17) (3.5,9) (4,11) (4.5,13) (5,13) (5.5,6) (6,6) (6.5,11) (7,5) (7.5,5) (8,3) (8.5,2) (9,2) (9.5,1) (10,3) (10.5,1) (11,1) (11.5,1) (12,0) (15.5,1) (16,0)};
\addlegendentry{Halo N=279}
\addplot[const plot mark left, line width=1.1pt, tblue] coordinates {
(-9.5,0) (-9.5,1) (-9,0) (-7,1) (-6.5,0) (-4.5,1) (-4,0) (-3,1) (-2.5,0) (-1,2) (-0.5,1) (0,3) (0.5,3) (1,4) (1.5,8) (2,6) (2.5,6) (3,5) (3.5,1) (4,2) (4.5,1) (5,0)};
\addlegendentry{LS N=46}
\addplot[const plot mark left, line width=1.1pt, torange] coordinates {
(0,0) (0,2) (0.5,0) (1,1) (1.5,0) (2,1) (2.5,0) (3.5,1) (4,0) (4.5,1) (5,1) (5.5,0) (6.5,1) (7,0) (8.5,1) (9,0)};
\addlegendentry{UCL-4 N=9}
\addplot[const plot mark left, line width=1.1pt, tgreen] coordinates {
(-12,0) (-12,1) (-11.5,0) (-8.5,1) (-8,1) (-7.5,0) (-5,1) (-4.5,0) (-4,1) (-3.5,0) (-2,2) (-1.5,2) (-1,5) (-0.5,4) (0,3) (0.5,2) (1,6) (1.5,3) (2,11) (2.5,6) (3,5) (3.5,5) (4,2) (4.5,2) (5,2) (5.5,7) (6,3) (6.5,1) (7,1) (7.5,1) (8,3) (8.5,1) (9,1) (9.5,2) (10,2) (10.5,1) (11,1) (11.5,0)};
\addlegendentry{US N=94}
\addplot[const plot mark left, line width=1.1pt, tred] coordinates {
(-9,0) (-9,1) (-8.5,0) (-2.5,1) (-2,0) (-1.5,1) (-1,1) (-0.5,0) (0,1) (0.5,0) (1,1) (1.5,1) (2,0) (2.5,4) (3,2) (3.5,3) (4,1) (4.5,3) (5,0) (5.5,1) (6,0) (8,1) (8.5,0) (9,2) (9.5,0) (14,1) (14.5,0)};
\addlegendentry{UCL-3 N=25}
\addplot[const plot mark left, line width=1.1pt, tpurple] coordinates {
(0.5,0) (0.5,1) (1,0) (2,3) (2.5,2) (3,2) (3.5,1) (4,3) (4.5,5) (5,2) (5.5,2) (6,0) (6.5,1) (7,0)};
\addlegendentry{UCL-2 N=22}
\addplot[const plot mark left, line width=1.1pt, tbrown] coordinates {
(-7,0) (-7,1) (-6.5,0) (-6,1) (-5.5,0) (-5,1) (-4.5,1) (-4,1) (-3.5,1) (-3,3) (-2.5,3) (-2,5) (-1.5,4) (-1,5) (-0.5,5) (0,4) (0.5,17) (1,17) (1.5,8) (2,12) (2.5,11) (3,8) (3.5,5) (4,4) (4.5,2) (5,2) (5.5,2) (6,4) (6.5,1) (7,0) (8,1) (8.5,0)};
\addlegendentry{LCC N=128}
\node[font=\fontsize{12}{14}\selectfont] at (axis description cs:0.057,0.911) {(c)};
\end{axis}
% ---------------- (d)
\begin{axis}[panel=32.76pt,
  xmin=-20, xmax=20, ymin=-3.7, ymax=78.2,
  xtick={-20,-15,-10,-5,0,5,10,15,20},
  xticklabels={−20,−15,−10,−5,0,5,10,15,20},
  ytick={0,20,40,60}, yticklabels={0,20,40,60},
  xlabel={\textit{v}\textsubscript{\textit{rad}} − $\textit{v}^{\textup{p}}_{\textit{rad}}$ [km/s]},
  ylabel={Smoothed Number density},
  xlabel style={at={(axis description cs:0.5,-0.176)},anchor=center},
  ylabel style={at={(axis description cs:-0.0984,0.5)},anchor=center},
  legend image code/.code={\draw[#1] (0pt,0pt) -- (20pt,0pt);}]
\addplot[line width=1.1pt, black] coordinates {
(-20,1.6) (-18,1.8) (-16.5,2.0) (-15,1.7) (-13,1.9) (-11.6,2.3) (-11.25,3.5) (-11.0,5.8) (-10.75,3.0) (-10.5,2.8) (-9.6,3.5) (-8.8,4.5) (-8.0,5.5) (-7.1,5.8) (-6.1,7.1) (-5.2,8.8) (-4.6,11.0) (-4.2,11.7) (-3.6,14.6) (-3.0,15.3) (-2.4,18.1) (-1.7,21.8) (-1.2,25.8) (-0.7,30.5) (-0.3,37.5) (0.05,40.8) (0.4,47.5) (0.9,57) (1.36,64.5) (1.62,69.1) (1.88,70.5) (2.05,71.8) (2.23,74.5) (2.49,71.1) (2.92,67.1) (3.44,63.1) (3.87,59.1) (4.05,59.5) (4.27,55.1) (4.66,50.5) (5.18,43.1) (5.7,37.8) (6.23,31.8) (6.92,25.8) (7.53,20.5) (8.14,17.8) (8.66,15.1) (9.36,11.1) (10.05,8.5) (10.9,6.5) (11.8,4.8) (12.66,3.5) (13.5,2.8) (14.4,2.6) (15.0,2.6) (15.8,2.65) (16.3,2.1) (17.4,1.5) (18.7,1.1) (20,1.0)};
\addlegendentry{All m=2.2}
\addplot[forget plot, line width=0.7pt, black] coordinates {(2.2,0) (2.2,74.5)};
\addplot[line width=1.1pt, grayc] coordinates {
(-20,1.1) (-15,1.1) (-11.6,1.1) (-11.2,2.0) (-11.0,3.1) (-10.8,1.3) (-10.3,1.1) (-8.9,2.5) (-8.0,3.5) (-7.0,3.0) (-6.1,3.8) (-5.2,4.6) (-4.7,5.5) (-4.2,5.1) (-3.5,6.1) (-2.6,8.5) (-1.6,11.5) (-0.9,13.8) (-0.35,16.8) (-0.1,18.0) (0.1,17.3) (0.4,20.5) (0.92,24.5) (1.36,27.8) (1.7,29.5) (1.97,29.3) (2.23,32.0) (2.49,28.5) (3.1,27.8) (3.8,25.5) (4.05,26.5) (4.14,27.8) (4.4,23.1) (5.18,20.5) (5.88,17.8) (6.57,13.8) (7.27,9.8) (7.97,6.8) (8.83,4.8) (10.05,3.1) (11.8,1.8) (13.5,1.3) (15.3,1.5) (17,1.1) (20,0.8)};
\addlegendentry{Halo m=2.2}
\addplot[forget plot, line width=0.7pt, grayc] coordinates {(2.2,0) (2.2,32.0)};
\addplot[line width=1.1pt, tblue] coordinates {
(-20,0.3) (-6.1,1.0) (-3.5,1.8) (-1.7,2.8) (-0.38,4.0) (0.49,5.2) (1.36,6.1) (1.88,6.8) (2.23,6.8) (2.75,6.1) (3.6,4.8) (4.5,3.8) (5.36,2.8) (6.4,1.7) (8.3,1.0) (11.8,0.6) (20,0.3)};
\addlegendentry{LS m=2.0}
\addplot[forget plot, line width=0.7pt, tblue] coordinates {(2.0,0) (2.0,6.8)};
\addplot[line width=1.1pt, torange] coordinates {
(-20,0.05) (-10,0.15) (-5,0.4) (-2,0.8) (-0.5,1.1) (0.3,1.3) (1.0,1.2) (2.0,0.9) (3.0,0.7) (5.0,0.4) (10.0,0.2) (20,0.05)};
\addlegendentry{UCL-4 m=0.3}
\addplot[forget plot, line width=0.7pt, torange] coordinates {(0.3,0) (0.3,1.3)};
\addplot[line width=1.1pt, tgreen] coordinates {
(-20,0.5) (-7.8,0.8) (-5.2,1.5) (-3.5,2.5) (-1.7,3.8) (-0.38,5.0) (0.49,6.8) (1.36,8.8) (1.97,10.1) (2.4,11.5) (2.83,10.1) (3.6,8.5) (4.5,7.5) (5.36,6.5) (6.57,5.3) (7.8,4.5) (8.5,3.8) (9.5,2.5) (10.9,1.8) (12.66,1.3) (15.3,0.8) (20,0.5)};
\addlegendentry{US m=2.4}
\addplot[forget plot, line width=0.7pt, tgreen] coordinates {(2.4,0) (2.4,11.5)};
\addplot[line width=1.1pt, tred] coordinates {
(-20,0.2) (-10,0.4) (-5,0.6) (-2,0.9) (0,1.2) (0.66,1.8) (1.53,2.5) (2.23,3.5) (3.1,3.9) (3.97,3.8) (4.45,4.0) (4.66,4.6) (4.8,4.0) (4.92,3.5) (5.18,1.8) (5.7,1.1) (7.4,0.8) (11.8,0.5) (20,0.3)};
\addlegendentry{UCL-3 m=4.6}
\addplot[forget plot, line width=0.7pt, tred] coordinates {(4.6,0) (4.6,4.6)};
\addplot[line width=1.1pt, tpurple] coordinates {
(-20,0.1) (-5,0.5) (-2,0.9) (0,1.4) (1.36,2.1) (2.6,2.8) (3.44,3.5) (3.97,3.9) (4.66,3.5) (5.53,2.5) (6.23,1.7) (7.4,1.0) (10.05,0.6) (20,0.3)};
\addlegendentry{UCL-2 m=3.9}
\addplot[forget plot, line width=0.7pt, tpurple] coordinates {(3.9,0) (3.9,3.9)};
\addplot[line width=1.1pt, tbrown] coordinates {
(-20,0.5) (-9.6,0.6) (-7.0,1.5) (-5.2,2.6) (-4.35,3.5) (-3.65,5.3) (-3.0,4.8) (-2.1,6.5) (-1.0,8.8) (-0.4,10.5) (0.14,13.8) (0.66,17.8) (1.1,19.6) (1.36,19.9) (1.7,19.1) (2.23,17.1) (2.66,16.8) (3.27,15.1) (3.8,13.5) (4.3,10.5) (4.83,7.5) (5.36,5.8) (6.23,4.5) (7.1,3.5) (7.6,3.0) (8.14,3.3) (8.66,2.5) (9.36,1.5) (10.9,1.0) (13.5,0.8) (20,0.6)};
\addlegendentry{LCC m=1.4}
\addplot[forget plot, line width=0.7pt, tbrown] coordinates {(1.4,0) (1.4,19.9)};
\node[font=\fontsize{12}{14}\selectfont] at (axis description cs:0.057,0.911) {(d)};
\end{axis}
\end{tikzpicture}
\end{document}
